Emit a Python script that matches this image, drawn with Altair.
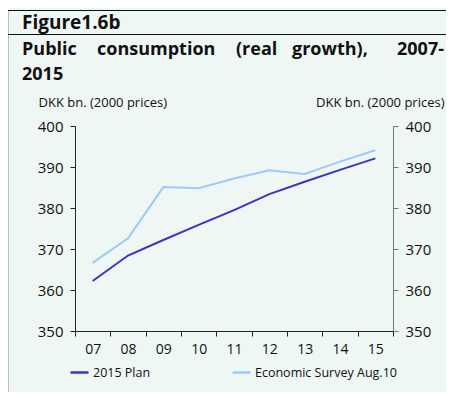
import altair as alt
import pandas as pd

years = ["07", "08", "09", "10", "11", "12", "13", "14", "15"]
plan_2015 = [362.2, 368.4, 372.2, 375.9, 379.5, 383.4, 386.4, 389.3, 392.1]
survey_aug10 = [366.6, 372.6, 385.1, 384.8, 387.2, 389.2, 388.3, 391.3, 394.1]
series_names = ["2015 Plan", "Economic Survey Aug.10"]
series_colors = ["#3535c8", "#9ccbf7"]
y_ticks = [350, 360, 370, 380, 390, 400]

df = pd.DataFrame({
    "year": years * 2,
    "value": plan_2015 + survey_aug10,
    "series": [series_names[0]] * len(years) + [series_names[1]] * len(years),
})

FONT = "Open Sans"
BG = "#eff7f4"
W, H = 318, 205
PL, PT = 67, 118  # plot origin at page (75,126)

xenc = alt.X("year:O", sort=years,
             scale=alt.Scale(paddingInner=0, paddingOuter=0),
             axis=alt.Axis(title=None, labelAngle=0, tickBand="extent", tickSize=5,
                           labelFontSize=14, labelPadding=6, labelColor="#111",
                           domainColor="#222", tickColor="#222", labelFont=FONT))
yscale = alt.Scale(domain=[350, 400], nice=False, zero=False)

lines = alt.Chart(df).mark_line(strokeWidth=2).encode(
    x=xenc,
    y=alt.Y("value:Q", scale=yscale,
            axis=alt.Axis(orient="left", values=y_ticks, grid=False, tickSize=5,
                          labelFontSize=15, labelPadding=7, labelColor="#111",
                          domainColor="#222", tickColor="#222", labelFont=FONT,
                          title="DKK bn. (2000 prices)", titleAngle=0, titleAlign="left",
                          titleBaseline="alphabetic", titleX=-37, titleY=-20,
                          titleFontSize=13, titleFontWeight="normal", titleFont=FONT,
                          titleColor="#111")),
    color=alt.Color("series:N", sort=series_names,
                    scale=alt.Scale(domain=series_names, range=series_colors),
                    legend=alt.Legend(title=None, orient="none", direction="horizontal",
                                      legendX=-6, legendY=236, symbolType="stroke",
                                      symbolSize=324, symbolStrokeWidth=2.5,
                                      labelFontSize=12.5, labelFont=FONT, labelColor="#111",
                                      labelOffset=3, columnPadding=76)),
)

right = alt.Chart(df).mark_line(opacity=0).encode(
    x=xenc,
    y=alt.Y("value:Q", scale=yscale,
            axis=alt.Axis(orient="right", values=y_ticks, grid=False, tickSize=5,
                          labelFontSize=15, labelPadding=7, labelColor="#111",
                          domainColor="#777", tickColor="#777", labelFont=FONT,
                          title="DKK bn. (2000 prices)", titleAngle=0, titleAlign="right",
                          titleBaseline="alphabetic", titleX=51, titleY=-20,
                          titleFontSize=13, titleFontWeight="normal", titleFont=FONT,
                          titleColor="#111")),
    detail="series:N",
)

one = alt.Data(values=[{"a": 1}])

def txt(s, x, y, size, weight="bold", align="left"):
    return alt.Chart(one).mark_text(text=s, fontSize=size, fontWeight=weight, font=FONT,
                                    align=align, baseline="alphabetic", color="#111").encode(
        x=alt.value(x), y=alt.value(y))

def hrule(x1, x2, y):
    return alt.Chart(one).mark_rule(color="#111", strokeWidth=1).encode(
        x=alt.value(x1), x2=alt.value(x2), y=alt.value(y))

def vrule(x, y1, y2):
    return alt.Chart(one).mark_rule(color="#111", strokeWidth=1.5).encode(
        x=alt.value(x), y=alt.value(y1), y2=alt.value(y2))

ox, oy = 75, 126
TS = 18
deco = [
    hrule(-ox + 7, 454 - ox, 10.5 - oy),
    hrule(-ox + 7, 454 - ox, 34.5 - oy),
    vrule(7.5 - ox, 10 - oy, 400 - oy),
    txt("Figure1.6b", 22 - ox, 29 - oy, TS + 1),
    txt("Public", 22 - ox, 55 - oy, TS),
    txt("consumption", 97 - ox, 55 - oy, TS),
    txt("(real", 236 - ox, 55 - oy, TS),
    txt("growth),", 292 - ox, 55 - oy, TS),
    txt("2007-", 444 - ox, 55 - oy, TS, align="right"),
    txt("2015", 22 - ox, 80 - oy, TS),
]

chart = alt.layer(lines, right, *deco).resolve_scale(y="independent").properties(
    width=W, height=H,
    background=BG,
    padding={"left": PL, "top": PT, "right": 454 - 16 - PL - W, "bottom": 400 - 16 - PT - H},
    autosize=alt.AutoSizeParams(type="none"),
).configure_view(stroke=None)

chart.save("out.html", embed_options={"renderer": "svg", "actions": False})
